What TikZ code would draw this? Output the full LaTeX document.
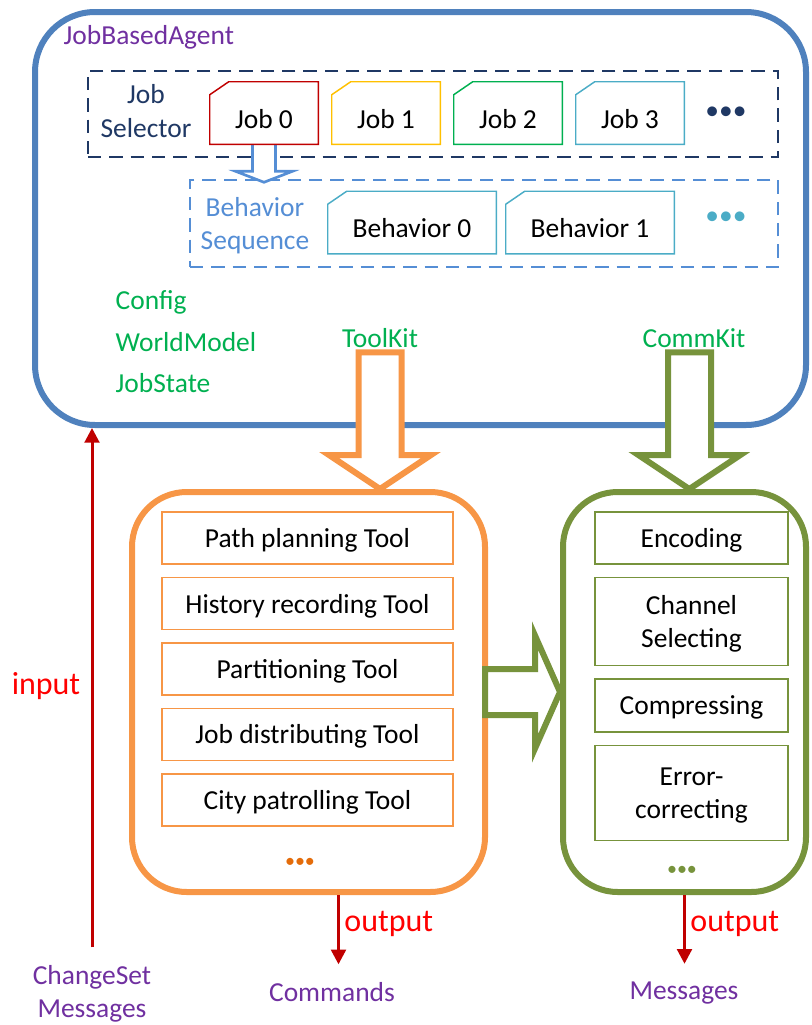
\documentclass[tikz,border=0pt]{standalone}
\usepackage{fontspec}
\setmainfont{Carlito}
\usetikzlibrary{positioning,arrows.meta}
\definecolor{agentblue}{HTML}{4F81BD}
\definecolor{selnavy}{HTML}{1F3864}
\definecolor{seqblue}{HTML}{558ED5}
\definecolor{jobred}{HTML}{C00000}
\definecolor{jobyellow}{HTML}{FFC000}
\definecolor{jobgreen}{HTML}{00B050}
\definecolor{jobcyan}{HTML}{4BACC6}
\definecolor{toolorange}{HTML}{F79646}
\definecolor{dotorange}{HTML}{E46C0A}
\definecolor{commgreen}{HTML}{77933C}
\definecolor{labelgreen}{HTML}{00B050}
\definecolor{labelpurple}{HTML}{7030A0}
\definecolor{redtext}{HTML}{FF0000}
\definecolor{arrowred}{HTML}{C00000}
\tikzset{
  dashbox/.style={draw=#1, line width=2pt, dash pattern=on 10pt off 6pt},
  snipbox/.style={minimum width=#1, minimum height=46.5pt, inner sep=0pt, text height=22.5pt, text depth=0pt},
  kitbox/.style={draw=#1, line width=4.5pt, rounded corners=41pt, minimum height=300pt},
  itembox/.style={draw=#1, line width=1.1pt, inner sep=0pt, align=center, text depth=0pt},
  fat/.style={draw=#1, line width=4.5pt, fill=white, line join=miter},
  redarrow/.style={draw=arrowred, line width=2.25pt, -{Triangle[width=11pt,length=11pt]}},
  redlabel/.style={text=redtext, font=\fontsize{24}{28}\selectfont},
  smalldots/.style={text=#1, font=\fontsize{15}{18}\selectfont}
}
\begin{document}
\begin{tikzpicture}[x=0.75pt,y=-0.75pt,every node/.style={font=\fontsize{20.6}{25}\selectfont}]
\useasboundingbox (0,0) rectangle (811,1025);
\node[draw=agentblue,line width=4.5pt,rounded corners=45pt,minimum width=578.25pt,minimum height=309.75pt](JBA) at (420.5,218.5){};
\node[anchor=west,text=labelpurple](JBAL) at (59,37){JobBasedAgent};
\node[dashbox=selnavy,minimum width=517.5pt,minimum height=64.5pt](JS) at (433,114){};
\node[text=selnavy,align=center](JSL) at (146,111){Job\\Selector};
\node[snipbox=81pt](J0) at (264,113){Job 0};
\node[snipbox=81pt,right of=J0,node distance=91.5pt](J1){Job 1};
\node[snipbox=81pt,right of=J1,node distance=91.5pt](J2){Job 2};
\node[snipbox=81pt,right of=J2,node distance=91.5pt](J3){Job 3};
\node[text=selnavy,right of=J3,node distance=72pt](JD){•••};
\node[dashbox=seqblue,minimum width=441pt,minimum height=65.25pt](BS) at (484,223.5){};
\node[text=seqblue,align=center](BSL) at (255,226){Behavior\\Sequence};
\node[snipbox=126pt](B0) at (412,222.5){Behavior 0};
\node[snipbox=126pt,right of=B0,node distance=133.5pt](B1){Behavior 1};
\node[text=jobcyan](BD) at (726,218){•••};
\draw[fat=seqblue,line width=2pt] ([shift={(-11.5,0)}]J0.south) -- ++(0,27) -- ++(-17,0) -- ++(28.5,11) -- ++(28.5,-11) -- ++(-17,0) -- ++(0,-27);
\foreach \n/\c in {J0/jobred,J1/jobyellow,J2/jobgreen,J3/jobcyan,B0/jobcyan,B1/jobcyan}
  \draw[\c,line width=1.1pt] (\n.south west) -- ([shift={(0,13)}]\n.north west) -- ([shift={(19,0)}]\n.north west) -- (\n.north east) -- (\n.south east) -- cycle;
\node[anchor=west,text=labelgreen](CF) at (111,302){Config};
\node[anchor=west,text=labelgreen](WM) at (111,342){WorldModel};
\node[anchor=west,text=labelgreen](JST) at (111,383){JobState};
\node[text=labelgreen](TK) at (380,338){ToolKit};
\node[text=labelgreen](CK) at (694,338){CommKit};
\node[kitbox=toolorange,minimum width=264.75pt](TB) at (308.5,692){};
\node[kitbox=commgreen,minimum width=182.25pt](CB) at (684.5,692){};
\node[itembox=toolorange,minimum width=218.25pt,minimum height=39pt](T1) at (307.5,538){Path planning Tool};
\node[itembox=toolorange,minimum width=218.25pt,minimum height=39pt,below of=T1,node distance=49.1pt](T2){History recording Tool};
\node[itembox=toolorange,minimum width=218.25pt,minimum height=39pt,below of=T2,node distance=49.1pt](T3){Partitioning Tool};
\node[itembox=toolorange,minimum width=218.25pt,minimum height=39pt,below of=T3,node distance=49.1pt](T4){Job distributing Tool};
\node[itembox=toolorange,minimum width=218.25pt,minimum height=39pt,below of=T4,node distance=49.1pt](T5){City patrolling Tool};
\node[smalldots=dotorange](TD) at (300,863){•••};
\node[itembox=commgreen,minimum width=144.75pt,minimum height=39pt](C1) at (691.5,538){Encoding};
\node[itembox=commgreen,minimum width=144.75pt,minimum height=66pt,below=9pt of C1](C2){Channel\\Selecting};
\node[itembox=commgreen,minimum width=144.75pt,minimum height=39.75pt,below=9pt of C2](C3){Compressing};
\node[itembox=commgreen,minimum width=144.75pt,minimum height=71.25pt,below=9pt of C3](C4){Error-\\correcting};
\node[smalldots=commgreen](CD) at (682,871){•••};
\coordinate (TKtip) at (TK.south |- TB.north);
\coordinate (CKtip) at ([xshift=-3.5pt]CK.south |- CB.north);
\draw[fat=toolorange] ([shift={(-21.5,0)}]TK.south) |- ([shift={(-51,-34)}]TKtip) -- (TKtip) -- ([shift={(51,-34)}]TKtip) -| ([shift={(21.5,0)}]TK.south) -- cycle;
\draw[fat=commgreen] ([shift={(-26,0)}]CK.south) |- ([shift={(-51,-34)}]CKtip) -- (CKtip) -- ([shift={(51,-34)}]CKtip) -| ([shift={(17,0)}]CK.south) -- cycle;
\coordinate (CBtip) at (CB.west);
\draw[fat=commgreen] ([shift={(-3,-23)}]TB.east) -- ([shift={(-25,-23)}]CBtip) -- ([shift={(-25,-56.5)}]CBtip) -- (CBtip) -- ([shift={(-25,56.5)}]CBtip) -- ([shift={(-25,23)}]CBtip) -- ([shift={(-3,23)}]TB.east) -- cycle;
\node[text=labelpurple,align=center](CS) at (92,994){ChangeSet\\Messages};
\node[text=labelpurple](CMD) at (332,992){Commands};
\node[text=labelpurple](MSG) at (684,993){Messages};
\node[redlabel](IN) at (46,686){input};
\draw[redarrow,shorten <=10pt] (CS.north) -- (CS.north |- JBA.south);
\draw[redarrow,shorten >=10pt] ([xshift=22.5pt]TB.south) -- ([xshift=22.5pt]TB.south |- CMD.north) node[redlabel,pos=0.35,right](OUT1){output};
\draw[redarrow,shorten >=10pt] (CB.south) -- (CB.south |- MSG.north) node[redlabel,pos=0.35,right](OUT2){output};
\end{tikzpicture}
\end{document}
